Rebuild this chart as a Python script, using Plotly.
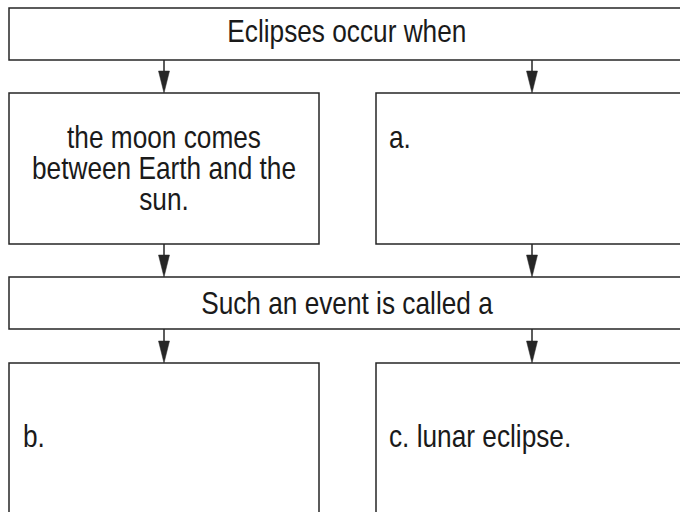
import plotly.graph_objects as go

# ---- content (text) ----
header_texts = ["Eclipses occur when", "Such an event is called a"]
mid_left_lines = ["the moon comes", "between Earth and the", "sun."]
mid_right_text = "a."
bottom_left_text = "b."
bottom_right_text = "c. lunar eclipse."

# ---- layout constants (pixel space, y downward) ----
W, H = 680, 512
FONT = "Liberation Sans, Arial, sans-serif"
FSIZE = 32
NARROW = 0.82      # horizontal condensing of the typeface
LEADING = 31       # px between baselines of wrapped lines
LINE = "#262626"
LW = 1.5

L0, L1 = 9, 319
R0, R1 = 376, 690
ROWS = {"top": (8, 60), "mid": (93, 244), "banner": (277, 329), "bot": (363, 520)}
ARROW_X = [164, 532]

shapes = []


def rect(x0, y0, x1, y1):
    shapes.append(dict(type="rect", xref="x", yref="y", x0=x0, x1=x1, y0=y0, y1=y1,
                       line=dict(color=LINE, width=LW), fillcolor="rgba(0,0,0,0)"))


def arrow(x, y0, y1):
    head_len, head_w = 22, 5.5
    shapes.append(dict(type="line", xref="x", yref="y", x0=x, x1=x, y0=y0, y1=y1 - head_len + 2,
                       line=dict(color=LINE, width=LW)))
    shapes.append(dict(type="path", xref="x", yref="y",
                       path=f"M {x - head_w},{y1 - head_len} L {x + head_w},{y1 - head_len} L {x},{y1} Z",
                       fillcolor=LINE, line=dict(color=LINE, width=0.5)))


rect(L0, ROWS["top"][0], R1, ROWS["top"][1])
rect(L0, ROWS["mid"][0], L1, ROWS["mid"][1])
rect(R0, ROWS["mid"][0], R1, ROWS["mid"][1])
rect(L0, ROWS["banner"][0], R1, ROWS["banner"][1])
rect(L0, ROWS["bot"][0], L1, ROWS["bot"][1])
rect(R0, ROWS["bot"][0], R1, ROWS["bot"][1])

for ax in ARROW_X:
    arrow(ax, ROWS["top"][1], ROWS["mid"][0])
    arrow(ax, ROWS["mid"][1], ROWS["banner"][0])
    arrow(ax, ROWS["banner"][1], ROWS["bot"][0])

annotations = []


def text(t, x, y, xanchor="center"):
    annotations.append(dict(text=t, x=x, y=y, xref="x", yref="y", showarrow=False,
                            xanchor=xanchor, yanchor="middle", align=xanchor,
                            font=dict(family=FONT, size=FSIZE, color="#1a1a1a")))


text(header_texts[0], 347, 31)
text(header_texts[1], 347, 303)
text("<br>".join(mid_left_lines), 164, 167.5)
text(mid_right_text, 387, 137, "left")
text(bottom_left_text, 21, 436, "left")
text(bottom_right_text, 387, 436, "left")

fig = go.Figure()
fig.update_layout(
    width=W, height=H, margin=dict(l=0, r=0, t=0, b=0),
    paper_bgcolor="white", plot_bgcolor="white",
    xaxis=dict(range=[0, W], visible=False, fixedrange=True),
    yaxis=dict(range=[H, 0], visible=False, fixedrange=True),
    shapes=shapes, annotations=annotations, showlegend=False,
)

post = """
document.body.style.margin = '0';
var gd = document.getElementById('{plot_id}');
var FS = %d, LEAD = %f, NARROW = %f;
gd.querySelectorAll('.annotation-text').forEach(function (el) {
  var shift = 0;
  var lines = el.querySelectorAll('tspan.line');
  if (lines.length > 1) {
    lines.forEach(function (t, i) { t.setAttribute('dy', (i * LEAD) + 'px'); });
    shift = (1.3 * FS - LEAD) * (lines.length - 1) / 2;
  }
  var a = el.getAttribute('text-anchor');
  el.style.transformBox = 'fill-box';
  el.style.transformOrigin = (a === 'start') ? 'left center' : 'center center';
  el.style.transform = 'translateY(' + shift + 'px) scaleX(' + NARROW + ')';
});
""" % (FSIZE, LEADING, NARROW)

fig.write_html("out.html", post_script=post, config={"displayModeBar": False})
